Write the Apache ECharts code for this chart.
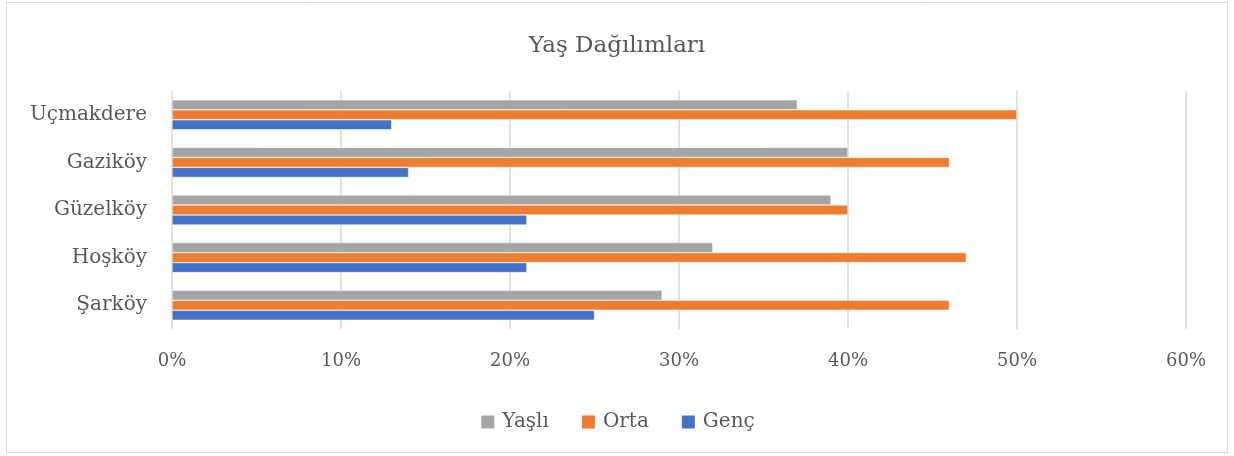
<!DOCTYPE html>
<html><head><meta charset="utf-8">
<script src="https://cdn.jsdelivr.net/npm/echarts@6/dist/echarts.min.js"></script>
<style>html,body{margin:0;padding:0;background:#fff}#c{width:1234px;height:456px}</style>
</head><body><div id="c"></div>
<script>
const categories = ['Şarköy', 'Hoşköy', 'Güzelköy', 'Gaziköy', 'Uçmakdere'];
const genc = [25, 21, 21, 14, 13];
const orta = [46, 47, 40, 46, 50];
const yasli = [29, 32, 39, 40, 37];
const seriesNames = ['Genç', 'Orta', 'Yaşlı'];
const legendOrder = ['Yaşlı', 'Orta', 'Genç'];
const titleText = 'Yaş Dağılımları';

const FONT = '"DejaVu Serif", serif';
const TXT = '#595959';
const chart = echarts.init(document.getElementById('c'), null, {renderer: 'canvas'});
const barStyle = {borderColor: '#fff', borderWidth: 0.5};
chart.setOption({
  animation: false,
  backgroundColor: '#fff',
  graphic: [{type: 'rect', shape: {x: 6.5, y: 2.5, width: 1221, height: 450}, style: {fill: 'none', stroke: '#d9d9d9', lineWidth: 1}, silent: true}],
  title: {text: titleText, left: 'center', top: 30, textStyle: {fontFamily: FONT, fontSize: 23, fontWeight: 'normal', color: TXT}},
  legend: {data: legendOrder, bottom: 19, left: 'center', itemWidth: 15, itemHeight: 15, itemGap: 31, icon: 'rect',
    textStyle: {fontFamily: FONT, fontSize: 20, color: TXT, padding: [0, 0, 0, 2]}},
  grid: {left: 172, right: 48, top: 91, bottom: 127, containLabel: false},
  xAxis: {type: 'value', min: 0, max: 60, interval: 10,
    axisLabel: {formatter: '{value}%', fontFamily: FONT, fontSize: 18, color: TXT, margin: 23},
    axisLine: {show: false}, axisTick: {show: false},
    splitLine: {lineStyle: {color: '#d9d9d9', width: 1.5}}},
  yAxis: {type: 'category', data: categories,
    axisLabel: {fontFamily: FONT, fontSize: 20, color: TXT, margin: 25},
    axisLine: {show: false}, axisTick: {show: false}},
  series: [
    {name: seriesNames[2], type: 'bar', data: yasli, barWidth: 10, barGap: '0%', itemStyle: Object.assign({color: '#A5A5A5'}, barStyle)},
    {name: seriesNames[1], type: 'bar', data: orta, barWidth: 10, barGap: '0%', itemStyle: Object.assign({color: '#ED7D31'}, barStyle)},
    {name: seriesNames[0], type: 'bar', data: genc, barWidth: 10, barGap: '0%', itemStyle: Object.assign({color: '#4472C4'}, barStyle)}
  ]
});
</script></body></html>
